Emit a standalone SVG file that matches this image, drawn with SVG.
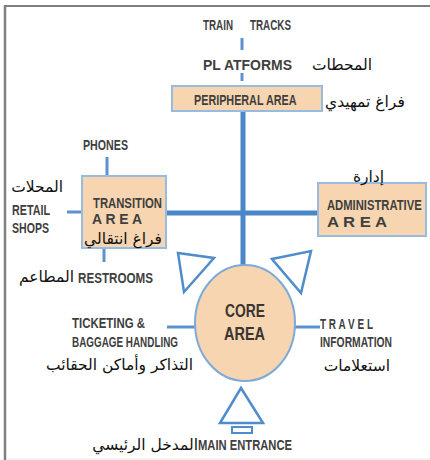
<svg xmlns="http://www.w3.org/2000/svg" width="430" height="460" viewBox="0 0 430 460">
<style>
.en{font-family:"Liberation Sans",Arial,sans-serif;font-weight:bold;fill:#3f3f3f;font-size:15px}
.ar{font-family:"DejaVu Sans","Noto Sans",sans-serif;fill:#111;font-size:15.5px}
.box{fill:#f6d5b0;stroke:#98bbe0;stroke-width:2}
.main{stroke:#4a87c8;stroke-width:5;fill:none}
.thin{stroke:#5b93cd;stroke-width:3;fill:none}
.tri{fill:#fff;stroke:#4f8ccb;stroke-width:2.5;stroke-linejoin:miter}
</style>
<rect width="430" height="460" fill="#fff"/>
<g id="frame">
<line x1="4" y1="6" x2="430" y2="6" stroke="#7f7f7f" stroke-width="2"/>
<line x1="5" y1="5" x2="5" y2="460" stroke="#7f7f7f" stroke-width="2.5"/>
<line x1="6" y1="459" x2="430" y2="459" stroke="#e6e6e6" stroke-width="1"/>
</g>
<g id="connectors">
<line class="thin" x1="242" y1="38" x2="242" y2="50" stroke-width="4"/>
<line class="thin" x1="242" y1="73" x2="242" y2="81" stroke-width="4"/>
<line class="main" x1="243" y1="111" x2="243" y2="266"/>
<line class="main" x1="166" y1="213" x2="318" y2="213"/>
<line class="thin" x1="107" y1="157" x2="107" y2="177"/>
<line class="thin" x1="67" y1="212" x2="82" y2="212"/>
<line class="thin" x1="104" y1="248" x2="104" y2="262"/>
<line class="thin" x1="167" y1="327" x2="197" y2="327"/>
<line class="thin" x1="294" y1="327" x2="320" y2="327"/>
</g>
<g id="train-tracks">
<text class="en" style="font-size:14px"><tspan x="203" y="30" textLength="30" lengthAdjust="spacingAndGlyphs">TRAIN</tspan><tspan x="250" y="30" textLength="41" lengthAdjust="spacingAndGlyphs">TRACKS</tspan></text>
</g>
<g id="platforms">
<text class="en" x="203" y="70" textLength="89" lengthAdjust="spacingAndGlyphs" style="font-size:14px">PL ATFORMS</text>
<text class="ar" x="372" y="70" text-anchor="end">المحطات</text>
</g>
<g id="peripheral-area">
<rect class="box" x="172" y="86" width="150" height="25"/>
<text class="en" transform="translate(194 105) scale(0.72 1)" x="0" y="0">PERIPHERAL AREA</text>
<text class="ar" x="325" y="107">فراغ تمهيدي</text>
</g>
<g id="transition-area">
<rect class="box" x="82" y="176" width="84" height="72"/>
<text class="en" x="93" y="208" textLength="69" lengthAdjust="spacingAndGlyphs">TRANSITION</text>
<text class="en" x="92" y="224" textLength="50" lengthAdjust="spacingAndGlyphs">A R E A</text>
<text class="ar" x="162" y="244" text-anchor="end">فراغ انتقالي</text>
</g>
<g id="phones">
<text class="en" x="83" y="150" textLength="45" lengthAdjust="spacingAndGlyphs">PHONES</text>
</g>
<g id="retail-shops">
<text class="ar" x="63" y="192" text-anchor="end">المحلات</text>
<text class="en" x="12" y="215" textLength="38" lengthAdjust="spacingAndGlyphs">RETAIL</text>
<text class="en" x="12" y="233" textLength="37" lengthAdjust="spacingAndGlyphs">SHOPS</text>
</g>
<g id="restrooms">
<text class="ar" x="74" y="282" text-anchor="end">المطاعم</text>
<text class="en" x="78" y="283" textLength="75" lengthAdjust="spacingAndGlyphs">RESTROOMS</text>
</g>
<g id="administrative-area">
<rect class="box" x="318" y="183" width="108" height="53"/>
<text class="en" transform="translate(327 210) scale(0.75 1)" x="0" y="0">ADMINISTRATIVE</text>
<text class="en" x="327" y="227" textLength="60" lengthAdjust="spacingAndGlyphs">A R E A</text>
<text class="ar" x="384" y="182" text-anchor="end">إدارة</text>
</g>
<g id="triangle-left">
<polygon class="tri" points="178,253 214,258 184,292"/>
</g>
<g id="triangle-right">
<polygon class="tri" points="272,259 311,251 301,293"/>
</g>
<g id="core-area">
<ellipse cx="245" cy="323" rx="50" ry="58" fill="#f6d5b0" stroke="#7eaad8" stroke-width="2"/>
<text class="en" x="225" y="317" textLength="40" lengthAdjust="spacingAndGlyphs" style="font-size:19px;fill:#3a3530">CORE</text>
<text class="en" x="224" y="340" textLength="41" lengthAdjust="spacingAndGlyphs" style="font-size:19px;fill:#3a3530">AREA</text>
</g>
<g id="ticketing">
<text class="en" x="72" y="328" textLength="73" lengthAdjust="spacingAndGlyphs" style="font-size:14px">TICKETING  &amp;</text>
<text class="en" x="72" y="347" textLength="106" lengthAdjust="spacingAndGlyphs" style="font-size:14px">BAGGAGE HANDLING</text>
<text class="ar" x="193" y="370" text-anchor="end">التذاكر وأماكن الحقائب</text>
</g>
<g id="travel-information">
<text class="en" x="320" y="329" textLength="53" lengthAdjust="spacingAndGlyphs" style="font-size:14px">T R A V E L</text>
<text class="en" x="320" y="347" textLength="72" lengthAdjust="spacingAndGlyphs" style="font-size:14px">INFORMATION</text>
<text class="ar" x="390" y="371" text-anchor="end">استعلامات</text>
</g>
<g id="main-entrance">
<polygon class="tri" points="241,388 220,423 263,423"/>
<rect x="232" y="427" width="20" height="6" fill="#fff" stroke="#4f8ccb" stroke-width="2"/>
<text class="en" x="198" y="450" textLength="94" lengthAdjust="spacingAndGlyphs">MAIN ENTRANCE</text>
<text class="ar" x="198" y="450" text-anchor="end">المدخل الرئيسي</text>
</g>
</svg>
